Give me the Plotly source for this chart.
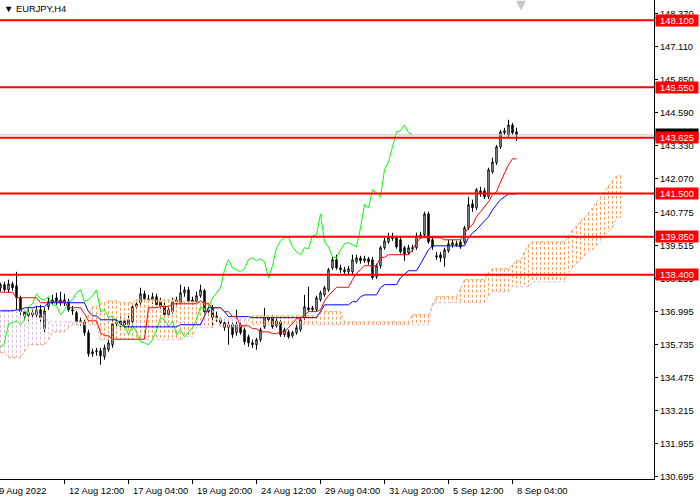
import plotly.graph_objects as go

# ---------------- data (EURJPY, H4) ----------------
opens = [137.90, 138.02, 137.82, 138.05, 137.98, 137.52, 136.99, 136.83, 136.95, 136.87,
         137.06, 136.34, 137.18, 137.33, 137.52, 137.44, 137.33, 137.37, 137.06, 136.95,
         136.60, 136.60, 136.19, 135.38, 135.46, 135.50, 135.27, 135.54, 135.73, 136.53,
         136.53, 136.64, 136.49, 136.60, 137.18, 137.33, 137.67, 137.48, 137.44, 137.56,
         137.37, 137.21, 136.87, 136.99, 137.37, 137.33, 137.71, 137.82, 137.37, 137.37,
         137.60, 137.79, 136.99, 137.14, 136.76, 136.68, 136.57, 136.38, 136.49, 136.19,
         136.49, 136.30, 136.03, 135.80, 135.73, 135.92, 136.41, 136.76, 136.76, 136.45,
         136.60, 136.11, 136.22, 136.07, 136.19, 136.30, 136.76, 137.14, 137.06, 137.06,
         137.44, 137.63, 137.82, 138.66, 138.97, 138.66, 138.59, 138.51, 138.51, 138.89,
         139.04, 138.93, 139.01, 138.97, 138.32, 138.74, 139.43, 139.65, 139.77, 139.81,
         139.73, 139.43, 139.24, 139.43, 139.43, 139.85, 139.92, 140.72, 139.73, 139.12,
         139.16, 139.04, 139.31, 139.54, 139.58, 139.65, 139.65, 140.19, 141.10, 140.95,
         141.60, 141.60, 141.37, 142.32, 142.67, 143.28, 143.81, 143.73, 144.11, 143.85]
highs = [138.09, 138.13, 138.21, 138.13, 138.51, 137.60, 137.06, 137.10, 137.10, 137.21,
         137.25, 137.14, 137.52, 137.63, 137.71, 137.75, 137.67, 137.48, 137.21, 137.02,
         136.76, 136.68, 136.30, 135.58, 135.61, 135.61, 135.73, 135.92, 136.68, 136.68,
         136.80, 136.76, 136.83, 137.29, 137.44, 137.90, 137.79, 137.63, 137.71, 137.67,
         137.52, 137.33, 137.18, 137.52, 137.56, 138.02, 137.94, 137.94, 137.56, 137.75,
         138.02, 137.86, 137.21, 137.25, 136.99, 136.76, 136.68, 136.60, 136.57, 137.06,
         136.57, 136.38, 136.11, 135.92, 135.99, 136.38, 137.14, 136.83, 136.87, 136.72,
         136.68, 136.38, 136.30, 136.26, 136.49, 136.76, 137.63, 137.94, 137.21, 137.60,
         137.79, 137.98, 138.66, 139.08, 139.16, 138.78, 138.70, 138.74, 139.16, 139.16,
         139.12, 139.12, 139.08, 139.08, 138.82, 139.50, 139.81, 140.00, 140.00, 139.88,
         139.85, 139.50, 139.54, 139.54, 140.00, 140.04, 140.80, 140.80, 139.88, 139.27,
         139.27, 139.43, 139.73, 139.73, 139.69, 139.73, 140.26, 141.37, 141.26, 141.71,
         141.75, 141.71, 142.48, 142.86, 143.35, 143.92, 144.00, 144.31, 144.19, 144.00]
lows = [137.75, 137.75, 137.71, 137.79, 136.95, 136.76, 136.68, 136.64, 136.76, 136.76,
        136.60, 136.15, 137.06, 137.25, 137.25, 137.21, 137.21, 136.99, 136.87, 136.49,
        136.45, 136.07, 135.27, 135.27, 135.31, 134.97, 135.16, 135.46, 135.61, 136.41,
        136.41, 136.38, 136.38, 136.49, 137.10, 137.25, 137.37, 137.33, 137.29, 137.18,
        137.10, 136.76, 136.80, 136.91, 137.25, 137.25, 137.56, 137.29, 137.25, 137.29,
        137.52, 136.87, 136.83, 136.38, 136.60, 136.45, 136.26, 135.73, 135.99, 136.07,
        136.11, 135.73, 135.65, 135.61, 135.54, 135.84, 136.34, 136.60, 136.34, 136.38,
        136.03, 136.03, 135.96, 135.99, 136.11, 136.22, 136.68, 136.99, 136.99, 136.99,
        137.37, 137.56, 137.75, 138.59, 138.59, 138.47, 138.43, 138.36, 138.43, 138.82,
        138.82, 138.85, 138.78, 138.21, 138.24, 138.63, 139.35, 139.58, 139.69, 139.39,
        139.20, 138.93, 139.16, 139.27, 139.35, 139.77, 139.85, 139.58, 139.35, 138.97,
        138.89, 138.70, 139.24, 139.43, 139.46, 139.39, 139.58, 140.11, 140.80, 140.87,
        141.37, 141.29, 141.29, 142.25, 142.59, 143.20, 143.73, 143.66, 143.73, 143.50]
closes = [138.02, 137.82, 138.05, 137.90, 137.52, 136.99, 136.83, 136.95, 136.87, 137.06,
          136.76, 137.02, 137.37, 137.44, 137.40, 137.33, 137.44, 137.06, 137.02, 136.60,
          136.64, 136.19, 135.38, 135.46, 135.50, 135.31, 135.61, 135.80, 136.53, 136.57,
          136.64, 136.49, 136.68, 137.18, 137.29, 137.67, 137.48, 137.44, 137.56, 137.25,
          137.21, 136.87, 137.06, 137.37, 137.44, 137.71, 137.82, 137.37, 137.44, 137.60,
          137.82, 136.99, 137.06, 136.76, 136.83, 136.57, 136.38, 136.49, 136.11, 136.49,
          136.19, 135.84, 135.80, 135.73, 135.92, 136.30, 136.76, 136.68, 136.41, 136.64,
          136.11, 136.30, 136.03, 136.19, 136.38, 136.68, 137.18, 137.06, 137.14, 137.52,
          137.71, 137.90, 138.59, 138.97, 138.66, 138.59, 138.51, 138.63, 138.97, 139.04,
          138.93, 139.01, 138.89, 138.28, 138.74, 139.43, 139.69, 139.81, 139.85, 139.46,
          139.27, 139.16, 139.43, 139.39, 139.88, 139.92, 140.72, 139.65, 139.46, 139.08,
          139.04, 139.35, 139.58, 139.62, 139.54, 139.46, 140.19, 141.07, 140.95, 141.64,
          141.52, 141.37, 142.40, 142.70, 143.28, 143.85, 143.89, 144.11, 143.81, 143.73]

# Ichimoku lines as (value, number of bars)
tenkan_runs = [(137.73, 4), (137.52, 6), (137.33, 3), (137.37, 4), (137.14, 4), (136.91, 1),
               (136.64, 3), (136.19, 1), (136.07, 2), (135.94, 9), (137.14, 3), (137.18, 3),
               (137.29, 7), (137.40, 1), (137.29, 2), (137.14, 3), (136.99, 2), (136.80, 2),
               (136.45, 3), (136.34, 2), (136.22, 3), (136.15, 2), (136.22, 2), (136.38, 1),
               (136.53, 1), (136.72, 2), (136.87, 1), (136.99, 3), (137.06, 1), (137.40, 1),
               (137.60, 1), (137.75, 1), (137.92, 4), (138.21, 1), (138.45, 1), (138.59, 1),
               (138.74, 4), (139.06, 2), (139.16, 6), (139.35, 1), (139.62, 1), (139.81, 6),
               (139.73, 5), (139.96, 1), (140.19, 1), (140.30, 1), (140.61, 1), (140.80, 1),
               (140.99, 1), (141.18, 1), (141.45, 1), (141.56, 1), (141.94, 1), (142.29, 1),
               (142.59, 1), (142.82, 2)]
kijun_runs = [(137.02, 4), (137.06, 2), (137.14, 3), (137.18, 3), (137.33, 10), (136.99, 1),
              (136.83, 2), (136.68, 5), (136.53, 1), (136.41, 14), (136.49, 6), (136.83, 1),
              (137.14, 4), (136.99, 1), (136.80, 6), (136.76, 17), (136.99, 1), (137.25, 7),
              (137.37, 2), (137.56, 1), (137.63, 4), (137.90, 1), (138.02, 4), (138.28, 1),
              (138.40, 1), (138.55, 3), (138.81, 1), (139.08, 1), (139.35, 1), (139.50, 9),
              (139.81, 1), (139.99, 1), (140.11, 1), (140.30, 1), (140.45, 1), (140.61, 1),
              (140.87, 1), (141.07, 1), (141.26, 1), (141.37, 1), (141.48, 3)]
span_a_runs = [(135.42, 2), (135.23, 4), (135.46, 1), (135.73, 5), (135.92, 1), (136.22, 4),
               (136.38, 1), (136.49, 3), (136.60, 1), (136.87, 1), (137.18, 2), (137.33, 2),
               (137.40, 3), (137.33, 4), (137.44, 11), (137.37, 5), (137.33, 3), (137.06, 1),
               (136.76, 1), (136.41, 7), (136.68, 1), (136.83, 17), (136.99, 6), (136.60, 17),
               (136.87, 5), (137.21, 1), (137.56, 6), (137.86, 1), (138.21, 6), (138.47, 1),
               (138.63, 5), (138.78, 1), (138.93, 2), (139.27, 1), (139.54, 1), (139.65, 9),
               (139.88, 1), (140.11, 1), (140.26, 1), (140.42, 1), (140.57, 1), (140.76, 1),
               (140.95, 1), (141.14, 1), (141.37, 1), (141.56, 1), (141.79, 1), (141.98, 1),
               (142.17, 2)]
span_b_runs = [(137.06, 10), (136.83, 2), (136.60, 9), (136.49, 4), (135.92, 21), (136.03, 3),
               (136.38, 5), (136.72, 8), (136.64, 1), (136.49, 45), (137.33, 14), (137.56, 1),
               (137.75, 5), (137.94, 5), (138.13, 9), (138.51, 1), (138.66, 1), (138.82, 1),
               (138.97, 1), (139.08, 1), (139.24, 1), (139.35, 1), (139.50, 1), (139.65, 1),
               (139.85, 1), (140.04, 1), (140.19, 1), (140.57, 2)]
chikou_shift = 26

levels = [148.100, 145.550, 143.625, 141.500, 139.850, 138.400]
y_ticks = [130.695, 131.955, 133.215, 134.475, 135.735, 136.995, 138.255, 139.515,
           140.775, 142.070, 143.330, 144.590, 145.850, 147.110, 148.370]
x_label_bars = [0, 16, 32, 48, 64, 80, 96, 112, 128]
x_label_texts = ["9 Aug 2022", "12 Aug 12:00", "17 Aug 04:00", "19 Aug 20:00", "24 Aug 12:00",
                 "29 Aug 04:00", "31 Aug 20:00", "5 Sep 12:00", "8 Sep 04:00"]
symbol_title = "▼ EURJPY,H4"


def expand(runs):
    out = []
    for v, n in runs:
        out += [v] * n
    return out


tenkan = expand(tenkan_runs)
kijun = expand(kijun_runs)
span_a = expand(span_a_runs)
span_b = expand(span_b_runs)
n = len(closes)
bars = list(range(n))
cloud_bars = list(range(len(span_a)))

FONT = "Liberation Sans, Arial, sans-serif"
fig = go.Figure()

# cloud hatching
for up, color in ((True, "#F4A460"), (False, "#D8BFD8")):
    xs, ys = [], []
    for i in cloud_bars:
        if (span_a[i] >= span_b[i]) == up:
            xs += [i, i, None]
            ys += [span_a[i], span_b[i], None]
    fig.add_trace(go.Scatter(x=xs, y=ys, mode="lines", hoverinfo="skip",
                             line=dict(color=color, width=1, dash="3px,2px")))
fig.add_trace(go.Scatter(x=cloud_bars, y=span_b, mode="lines",
                         line=dict(color="#D8BFD8", width=1, dash="3px,2px")))
fig.add_trace(go.Scatter(x=cloud_bars, y=span_a, mode="lines",
                         line=dict(color="#F4A460", width=1, dash="3px,2px")))

# candles
fig.add_trace(go.Candlestick(
    x=bars, open=opens, high=highs, low=lows, close=closes, whiskerwidth=0,
    increasing=dict(line=dict(color="black", width=1), fillcolor="white"),
    decreasing=dict(line=dict(color="black", width=1), fillcolor="black")))

# chikou, kijun, tenkan
fig.add_trace(go.Scatter(x=[i - chikou_shift for i in bars[chikou_shift:]],
                         y=closes[chikou_shift:], mode="lines",
                         line=dict(color="#00FF00", width=1)))
fig.add_trace(go.Scatter(x=bars, y=kijun, mode="lines", line=dict(color="#0000FF", width=1)))
fig.add_trace(go.Scatter(x=bars, y=tenkan, mode="lines", line=dict(color="#FF0000", width=1)))

# bid line and horizontal levels
shapes = [dict(type="line", xref="paper", x0=0, x1=1, yref="y", y0=closes[-1], y1=closes[-1],
               line=dict(color="#C0C0C0", width=1))]
for lv in levels:
    shapes.append(dict(type="line", xref="paper", x0=0, x1=1, yref="y", y0=lv, y1=lv,
                       line=dict(color="#FF0000", width=2)))

annotations = []
# bid price label (mostly hidden)
annotations.append(dict(xref="paper", x=1, xanchor="left", xshift=1, yref="y", y=closes[-1],
                        yanchor="middle", text="%.3f" % closes[-1], showarrow=False,
                        bgcolor="black", width=42, height=11, borderpad=0,
                        font=dict(family=FONT, size=9.4, color="white")))
for lv in levels:
    annotations.append(dict(xref="paper", x=1, xanchor="left", xshift=1, yref="y", y=lv,
                            yanchor="middle", text="%.3f" % lv, showarrow=False,
                            bgcolor="#FF0000", width=42, height=11, borderpad=0,
                            font=dict(family=FONT, size=9.4, color="white")))
for b, t in zip(x_label_bars, x_label_texts):
    annotations.append(dict(xref="x", x=b, xanchor="left", xshift=(2 if b else -4),
                            yref="paper", y=0, yanchor="top", yshift=-4, text=t,
                            showarrow=False, font=dict(family=FONT, size=9.4, color="black")))
annotations.append(dict(xref="paper", x=0, xanchor="left", xshift=2, yref="paper", y=1,
                        yanchor="top", yshift=-1, text=symbol_title, showarrow=False,
                        font=dict(family=FONT, size=9.4, color="black")))
annotations.append(dict(xref="x", x=n, xanchor="center", yref="paper", y=1,
                        yanchor="top", yshift=5, text="▼", showarrow=False,
                        font=dict(family="DejaVu Sans", size=13, color="#C8C8C8")))

fig.update_layout(
    width=700, height=500, autosize=False,
    margin=dict(l=0, r=46, t=0, b=21, pad=0),
    paper_bgcolor="white", plot_bgcolor="white",
    showlegend=False, boxgap=0.5,
    shapes=shapes, annotations=annotations,
    font=dict(family=FONT, size=9.4, color="black"),
    xaxis=dict(range=[-0.125, 163.375], showgrid=False, zeroline=False, showline=True,
               linecolor="black", linewidth=1, ticks="outside", ticklen=4,
               tickcolor="black", tickvals=x_label_bars[1:], showticklabels=False,
               rangeslider=dict(visible=False), fixedrange=True),
    yaxis=dict(range=[130.607, 148.877], side="right", showgrid=False, zeroline=False,
               showline=True, linecolor="black", linewidth=1, ticks="outside", ticklen=3,
               tickcolor="black", tickvals=y_ticks, ticktext=["%.3f" % v for v in y_ticks],
               tickfont=dict(family=FONT, size=9.4, color="black"), fixedrange=True),
)

fig.write_html("out.html", config={"displayModeBar": False},
               post_script="document.body.style.margin='0px';document.body.style.overflow='hidden';")
